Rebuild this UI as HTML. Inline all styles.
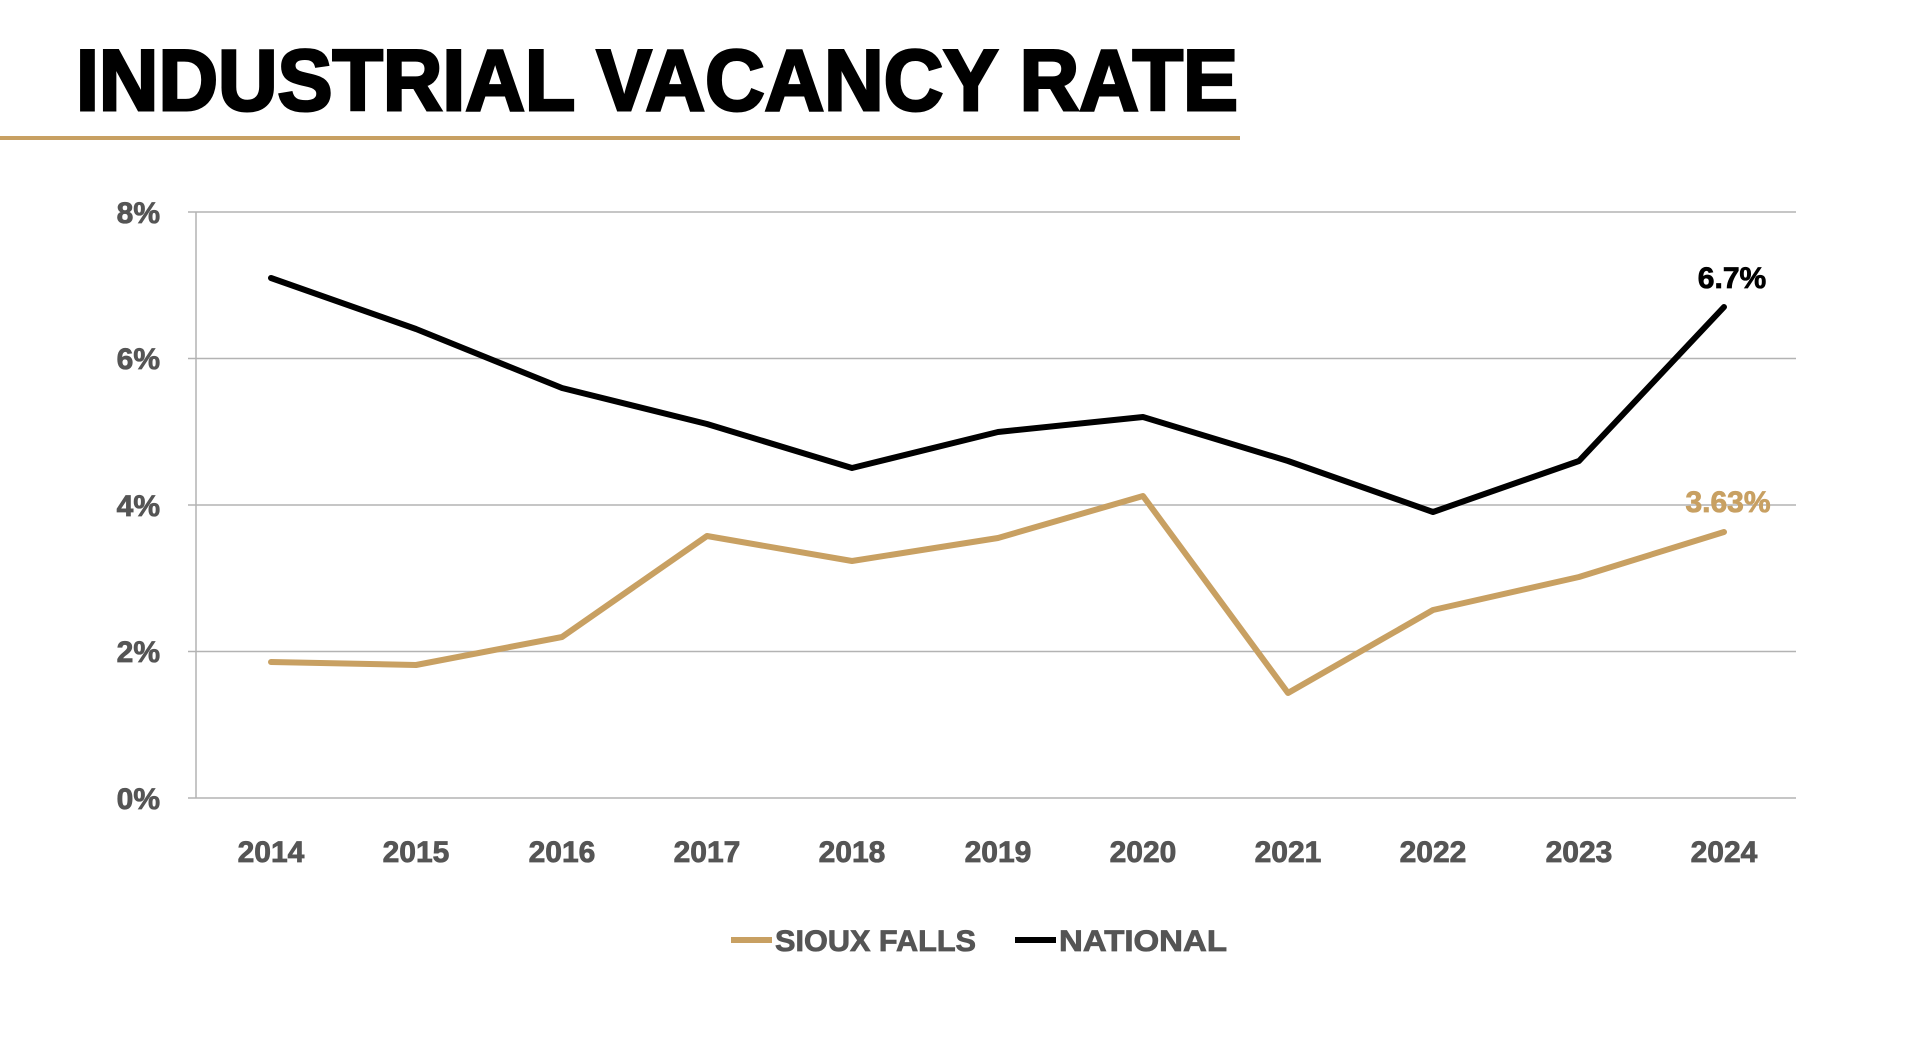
<!DOCTYPE html>
<html><head><style>html,body{margin:0;padding:0;background:#fff;}svg{display:block}</style></head>
<body>
<svg width="1920" height="1041" viewBox="0 0 1920 1041" xmlns="http://www.w3.org/2000/svg" font-family="Liberation Sans, sans-serif" font-weight="bold">
<text x="76" y="110" font-size="86" fill="#000" textLength="1162" lengthAdjust="spacingAndGlyphs" stroke="#000" stroke-width="3">INDUSTRIAL VACANCY RATE</text>
<rect x="0" y="136" width="1240" height="4" fill="#c8a062"/>
<g stroke="#b3b3b3" stroke-width="1.5">
<line x1="188" y1="212" x2="1796" y2="212"/>
<line x1="188" y1="358.5" x2="1796" y2="358.5"/>
<line x1="188" y1="505" x2="1796" y2="505"/>
<line x1="188" y1="651.5" x2="1796" y2="651.5"/>
<line x1="188" y1="798" x2="1796" y2="798"/>
<line x1="196" y1="212" x2="196" y2="798"/>
</g>
<g font-size="30" fill="#555" text-anchor="end" stroke="#555" stroke-width="0.8">
<text x="160" y="223">8%</text><text x="160" y="369">6%</text><text x="160" y="516">4%</text><text x="160" y="662">2%</text><text x="160" y="809">0%</text>
</g>
<g font-size="30" fill="#555" text-anchor="middle" stroke="#555" stroke-width="0.8">
<text x="271" y="862">2014</text><text x="416" y="862">2015</text><text x="562" y="862">2016</text><text x="707" y="862">2017</text><text x="852" y="862">2018</text><text x="998" y="862">2019</text><text x="1143" y="862">2020</text><text x="1288" y="862">2021</text><text x="1433" y="862">2022</text><text x="1579" y="862">2023</text><text x="1724" y="862">2024</text>
</g>
<polyline fill="none" stroke="#000" stroke-width="6" stroke-linejoin="round" stroke-linecap="round" points="271,278 416,329 562,388 707,424 852,468 998,432 1143,417 1288,461 1433,512 1579,461 1724,307"/>
<polyline fill="none" stroke="#c8a062" stroke-width="6" stroke-linejoin="round" stroke-linecap="round" points="271,662 416,665 562,637 707,536 852,561 998,538 1143,496 1288,693 1433,610 1579,577 1724,532"/>
<text x="1732" y="288" font-size="30" fill="#000" text-anchor="middle" stroke="#000" stroke-width="0.8">6.7%</text>
<text x="1728" y="512" font-size="30" fill="#c8a062" text-anchor="middle" stroke="#c8a062" stroke-width="0.8">3.63%</text>
<line x1="731" y1="940" x2="772" y2="940" stroke="#c8a062" stroke-width="6"/>
<text x="775" y="951" font-size="30" fill="#555" stroke="#555" stroke-width="0.8" textLength="201" lengthAdjust="spacingAndGlyphs">SIOUX FALLS</text>
<line x1="1015" y1="940" x2="1056" y2="940" stroke="#000" stroke-width="6"/>
<text x="1059" y="951" font-size="30" fill="#555" stroke="#555" stroke-width="0.8" textLength="168" lengthAdjust="spacingAndGlyphs">NATIONAL</text>
</svg>
</body></html>
